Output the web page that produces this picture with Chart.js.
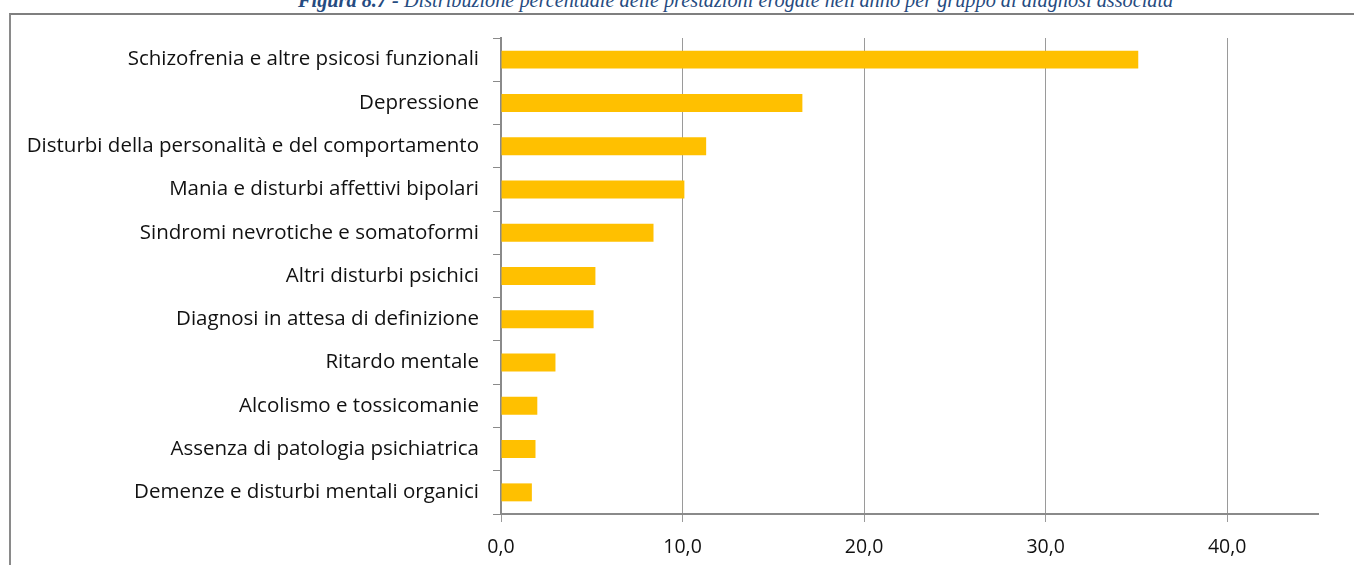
<!DOCTYPE html>
<html>
<head>
<meta charset="utf-8">
<script src="https://cdn.jsdelivr.net/npm/chart.js@4.4.0/dist/chart.umd.min.js"></script>
<style>
  html, body { margin: 0; padding: 0; background: #ffffff; overflow: hidden; }
  #wrap { position: relative; width: 1354px; height: 565px; }
  #frame { position: absolute; left: 9px; top: 13px; width: 1400px; height: 600px;
           border-top: 2px solid #7f7f7f; border-left: 2px solid #8a8a8a; box-sizing: border-box; }
  #title { position: absolute; left: 298px; top: -11px; white-space: nowrap;
           font-family: "Liberation Serif", "Times New Roman", serif; font-style: italic;
           font-size: 20.3px; color: #264b80; line-height: 22px; }
  #title b { font-weight: bold; }
  #c { position: absolute; left: 0; top: 0; }
</style>
</head>
<body>
<div id="wrap">
  <div id="frame"></div>
  <div id="title"><b>Figura 8.7 -</b> Distribuzione percentuale delle prestazioni erogate nell'anno per gruppo di diagnosi associata</div>
  <canvas id="c" width="1354" height="565"></canvas>
</div>
<script>
const categories = [
  "Schizofrenia e altre psicosi funzionali",
  "Depressione",
  "Disturbi della personalità e del comportamento",
  "Mania e disturbi affettivi bipolari",
  "Sindromi nevrotiche e somatoformi",
  "Altri disturbi psichici",
  "Diagnosi in attesa di definizione",
  "Ritardo mentale",
  "Alcolismo e tossicomanie",
  "Assenza di patologia psichiatrica",
  "Demenze e disturbi mentali organici"
];
const percentuali = [35.1, 16.6, 11.3, 10.1, 8.4, 5.2, 5.1, 3.0, 2.0, 1.9, 1.7];
const xTicks = [0, 10, 20, 30, 40];
const xMax = 45;

const fmt = v => v.toFixed(1).replace('.', ',');

new Chart(document.getElementById('c'), {
  type: 'bar',
  data: {
    labels: categories,
    datasets: [{
      data: percentuali,
      backgroundColor: '#ffc000',
      borderWidth: 0,
      barPercentage: 0.83,
      categoryPercentage: 0.5
    }]
  },
  options: {
    indexAxis: 'y',
    responsive: false,
    animation: false,
    devicePixelRatio: 1,
    layout: { padding: { left: 0, top: 38, right: 36, bottom: 0 } },
    plugins: { legend: { display: false }, tooltip: { enabled: false }, title: { display: false } },
    scales: {
      x: {
        min: 0, max: xMax,
        afterBuildTicks: s => { s.ticks = xTicks.map(v => ({ value: v })); },
        grid: { color: '#9a9a9a', lineWidth: 1, drawTicks: true, tickLength: 8, tickColor: '#9a9a9a' },
        border: { display: true, color: '#8a8a8a', width: 2 },
        ticks: { color: '#111', padding: 14, font: { family: '"Open Sans", sans-serif', size: 19.5 },
                 callback: v => fmt(v) },
        afterFit: s => { s.height = 51; }
      },
      y: {
        grid: { display: true, drawOnChartArea: false, drawTicks: true, tickLength: 8, tickColor: '#8a8a8a', offset: true },
        border: { display: true, color: '#8a8a8a', width: 2 },
        ticks: { color: '#111', padding: 14, font: { family: '"Open Sans", sans-serif', size: 20.5 } },
        afterFit: s => { s.width = 501; }
      }
    }
  }
});
</script>
</body>
</html>
